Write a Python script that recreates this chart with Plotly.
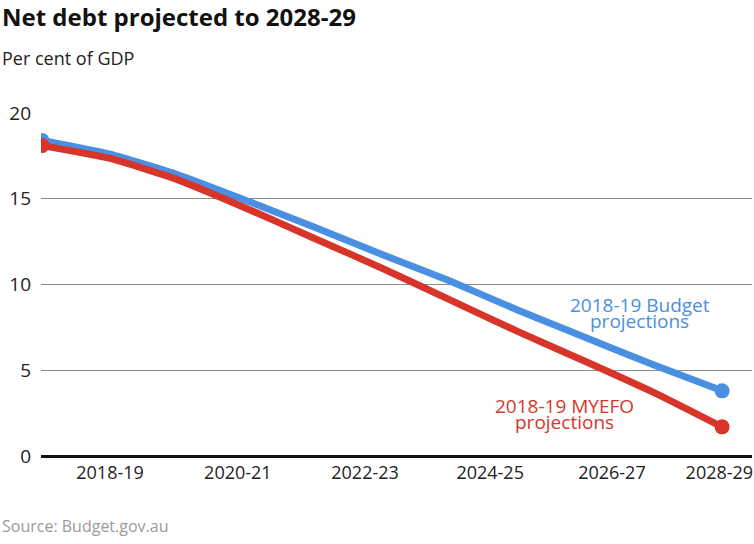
import plotly.graph_objects as go

years = ["2018-19", "2019-20", "2020-21", "2021-22", "2022-23", "2023-24",
         "2024-25", "2025-26", "2026-27", "2027-28", "2028-29"]
budget = [18.4, 17.6, 16.4, 14.9, 13.35, 11.75, 10.2, 8.5, 6.9, 5.3, 3.8]
myefo = [18.1, 17.35, 16.1, 14.45, 12.7, 10.95, 9.1, 7.25, 5.5, 3.7, 1.7]
tick_labels = ["2018-19", "2020-21", "2022-23", "2024-25", "2026-27", "2028-29"]

BLUE = "#4a8fe2"
RED = "#d7352a"
FONT = "Open Sans"

xi = list(range(len(years)))
tick_pos = [1.0, 2.88, 4.75, 6.59, 8.38, 9.96]

fig = go.Figure()
for vals, col, name in [(budget, BLUE, "2018-19 Budget projections"),
                        (myefo, RED, "2018-19 MYEFO projections")]:
    fig.add_trace(go.Scatter(
        x=xi, y=vals, mode="lines", name=name,
        line=dict(color=col, width=7, shape="spline", smoothing=0.5),
        hoverinfo="skip"))
    fig.add_trace(go.Scatter(
        x=[xi[0], xi[-1]], y=[vals[0], vals[-1]], mode="markers",
        marker=dict(color=col, size=15), hoverinfo="skip", showlegend=False))

PW, PH = 711, 343
lab_font = dict(size=19, family=FONT)
fig.update_layout(
    width=754, height=544,
    margin=dict(l=41, r=2, t=113, b=88),
    paper_bgcolor="white", plot_bgcolor="white",
    showlegend=False,
    font=dict(family=FONT, size=18, color="#222"),
    xaxis=dict(range=[-0.015, 10.44], showgrid=False, zeroline=False,
               tickmode="array", tickvals=tick_pos, ticktext=tick_labels,
               ticks="", tickfont=dict(size=18, color="#222"),
               ticklabelstandoff=4),
    yaxis=dict(range=[0, 20], tickvals=[0, 5, 10, 15, 20],
               showgrid=True, gridcolor="#8a8a8a", gridwidth=1,
               zeroline=True, zerolinecolor="#111", zerolinewidth=2.5,
               ticks="", tickfont=dict(size=19, color="#222"),
               ticklabelstandoff=9),
    annotations=[
        dict(text="<b>Net debt projected to 2028-29</b>", xref="paper", yref="paper",
             x=-41/PW, y=1 + (113 - 16) / PH, xanchor="left", yanchor="middle",
             showarrow=False, font=dict(size=24, color="#111", family=FONT)),
        dict(text="Per cent of GDP", xref="paper", yref="paper",
             x=-41/PW, y=1 + (113 - 58) / PH, xanchor="left", yanchor="middle",
             showarrow=False, font=dict(size=18, color="#222", family=FONT)),
        dict(text="Source: Budget.gov.au", xref="paper", yref="paper",
             x=-41/PW, y=-(526 - 456) / PH, xanchor="left", yanchor="middle",
             showarrow=False, font=dict(size=16, color="#9a9a9a", family=FONT)),
        dict(text="2018-19 Budget", x=8.79, y=8.80, xref="x", yref="y",
             showarrow=False, borderpad=0, font=dict(color=BLUE, **lab_font)),
        dict(text="projections", x=8.79, y=7.87, xref="x", yref="y",
             showarrow=False, borderpad=0, font=dict(color=BLUE, **lab_font)),
        dict(text="2018-19 MYEFO", x=7.68, y=2.92, xref="x", yref="y",
             showarrow=False, borderpad=0, font=dict(color=RED, **lab_font)),
        dict(text="projections", x=7.68, y=1.98, xref="x", yref="y",
             showarrow=False, borderpad=0, font=dict(color=RED, **lab_font)),
    ],
)

fig.write_html("out.html", config={"displayModeBar": False},
               post_script="document.body.style.margin='0';document.body.style.padding='0';")
